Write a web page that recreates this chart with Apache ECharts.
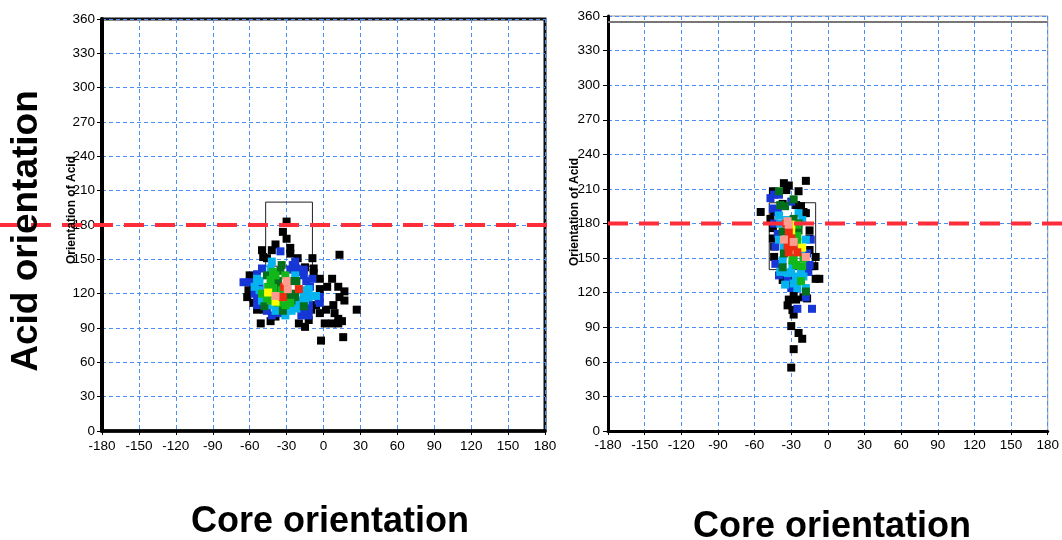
<!DOCTYPE html>
<html><head><meta charset="utf-8">
<script src="https://cdn.jsdelivr.net/npm/echarts@6/dist/echarts.min.js"></script>
<style>html,body{margin:0;padding:0;background:#fff}#c{width:1062px;height:540px}</style>
</head><body><div id="c"></div>
<script>
// ---- axis ticks ----
const xMin = -180, xMax = 180, xStep = 30;
const yMin = 0, yMax = 360, yStep = 30;
const refY = 180;

// ---- LEFT panel data [core, acid] ----
const leftBox = [[-47,144],[-47,200],[-9,200],[-9,144],[-47,144]];
const leftBlack = [[-30,183],[-33,174],[-30,168],[-39,163],[-27,160],[-50,158],[-42,158],[-27,155],[-21,151],[-9,151],[13,154],[-49,152],[-46,151],[-8,142],[-8,138],[-15,143],[-60,136],[-3,133],[7,133],[-3,124],[3,126],[12,126],[-62,117],[-61,123],[17,122],[17,114],[13,117],[-57,112],[-54,106],[-48,106],[-6,110],[-3,103],[2,106],[8,110],[9,103],[12,98],[15,96],[27,106],[-51,94],[-43,96],[-20,94],[-15,91],[1,94],[7,94],[12,94],[-12,97],[-2,79],[16,82],[-39,100],[-10,106],[-57,126]];
const leftBlue = [[-65,130],[-60,130],[-35,157],[-50,142],[-25,145],[-16,141],[-9,133],[-54,117],[-42,101],[-37,103],[-18,101],[-12,101],[-12,107],[-3,112],[-3,117],[-11,126],[-19,139],[-23,148],[-27,141],[-22,142],[-54,137],[-16,136],[-14,131],[-52,125],[-56,120],[-4,114],[-54,110],[-12,110],[-46,105],[-16,104]];
const leftCyan = [[-54,133],[-56,126],[-52,123],[-49,114],[-42,148],[-23,136],[-14,123],[-12,117],[-19,114],[-26,110],[-31,101],[-29,106],[-6,118],[-41,110],[-52,131],[-22,107],[-43,142],[-12,124],[-16,120],[-50,114],[-15,114],[-43,110],[-22,110],[-39,105],[-26,105]];
const leftGreen = [[-41,139],[-43,132],[-45,126],[-31,136],[-34,123],[-27,112],[-37,112],[-46,116],[-39,136],[-41,125],[-50,120],[-41,120],[-43,114],[-31,110]];
const leftDkGreen = [[-34,145],[-39,129],[-37,123],[-25,131],[-23,117],[-29,117],[-16,109],[-48,109],[-33,109],[-35,140],[-46,136],[-37,131],[-22,131],[-38,124],[-36,120],[-24,120],[-26,114],[-33,105]];
const leftYellow = [[-45,121],[-39,113]];
const leftRed = [[-32,126],[-20,124],[-33,117]];
const leftPink = [[-30,131],[-29,124],[-39,118]];

// ---- RIGHT panel data [core, acid] ----
const rightBox = [[-48,140],[-48,198],[-10,198],[-10,140],[-48,140]];
const rightBlack = [[-18,217],[-36,215],[-32,213],[-34,209],[-24,208],[-45,208],[-37,197],[-26,196],[-22,195],[-20,190],[-18,189],[-55,190],[-44,190],[-47,184],[-45,176],[-45,167],[-15,174],[-15,167],[-44,160],[-15,157],[-10,151],[-44,151],[-11,143],[-10,132],[-7,132],[-37,131],[-32,130],[-28,118],[-26,114],[-33,109],[-29,105],[-28,101],[-20,116],[-17,115],[-30,91],[-24,85],[-21,80],[-28,71],[-30,55],[-32,114]];
const rightBlue = [[-44,205],[-40,205],[-47,202],[-30,199],[-45,193],[-41,190],[-41,171],[-14,166],[-40,135],[-33,132],[-30,124],[-25,106],[-13,106],[-18,116],[-15,144],[-17,154],[-44,180],[-43,160],[-43,145],[-16,138]];
const rightDkGreen = [[-40,208],[-39,196],[-28,184],[-37,173],[-24,174],[-36,154],[-18,121],[-37,142],[-24,180],[-35,195],[-28,201]];
const rightCyan = [[-40,187],[-39,180],[-24,189],[-40,166],[-22,156],[-18,166],[-29,144],[-39,138],[-33,137],[-26,134],[-20,134],[-25,124],[-18,124],[-37,148],[-34,183],[-21,183],[-36,160],[-22,138],[-30,138],[-35,127],[-28,128]];
const rightGreen = [[-25,179],[-25,164],[-29,148],[-26,144],[-22,130],[-21,143],[-25,169],[-28,150],[-20,150]];
const rightYellow = [[-30,179],[-30,174],[-21,159]];
const rightRed = [[-32,173],[-30,167],[-33,161],[-28,160],[-32,155],[-25,155],[-34,180]];
const rightPink = [[-36,166],[-33,182],[-28,164],[-18,151],[-32,179]];

const COL = {black:'#000000', blue:'#1736d6', cyan:'#05b4ee', green:'#12b81a', dkgreen:'#04701e', yellow:'#ffff00', red:'#ee2a10', pink:'#ff9c90'};
const FONT = '"Liberation Sans", Arial, sans-serif';

function sq(data, color, g, z) {
  return {type:'scatter', xAxisIndex:g, yAxisIndex:g, data:data, symbol:'rect', symbolSize:8,
    itemStyle:{color:color, opacity:1}, z:z, silent:true, animation:false};
}
function box(data, g) {
  return {type:'line', xAxisIndex:g, yAxisIndex:g, data:data, symbol:'none',
    lineStyle:{color:'#222', width:1}, z:1, silent:true, animation:false};
}
const gridLine = {show:true, lineStyle:{color:'#4b8ef5', width:1, type:[4,3]}};
function xAx(g, margin, lineW) {
  return {type:'value', gridIndex:g, min:xMin, max:xMax, interval:xStep,
    axisLine:{show:true, onZero:false, lineStyle:{color:'#000', width:lineW}},
    axisTick:{show:true, length:4, lineStyle:{color:'#000'}},
    axisLabel:{color:'#000', fontSize:13.5, fontFamily:FONT, margin:margin},
    splitLine:gridLine};
}
function yAx(g, margin, lineW) {
  return {type:'value', gridIndex:g, min:yMin, max:yMax, interval:yStep,
    axisLine:{show:true, onZero:false, lineStyle:{color:'#000', width:lineW}},
    axisTick:{show:true, length:5, lineStyle:{color:'#000'}},
    axisLabel:{color:'#000', fontSize:13.5, fontFamily:FONT, margin:margin},
    splitLine:gridLine};
}

const chart = echarts.init(document.getElementById('c'), null, {renderer:'canvas'});
const rightSeries = [box(rightBox,1), sq(rightBlack,COL.black,1,3), sq(rightBlue,COL.blue,1,4), sq(rightCyan,COL.cyan,1,5),
  sq(rightDkGreen,COL.dkgreen,1,6), sq(rightGreen,COL.green,1,6), sq(rightYellow,COL.yellow,1,7), sq(rightRed,COL.red,1,7), sq(rightPink,COL.pink,1,7)];
rightSeries[0].markLine = {silent:true, symbol:'none', label:{show:false}, animation:false,
  lineStyle:{color:'#777', width:2, type:'solid'}, data:[{yAxis:355}]};

chart.setOption({
  animation:false,
  backgroundColor:'#fff',
  grid:[
    {left:102, top:19, width:443, height:412, show:true, borderColor:'#111', borderWidth:3},
    {left:608, top:16, width:442, height:415, show:true, borderColor:'#999', borderWidth:1}
  ],
  xAxis:[xAx(0,8,3.5), xAx(1,7,3)],
  yAxis:[yAx(0,7,4), yAx(1,8,3)],
  series:[
    box(leftBox,0), sq(leftBlack,COL.black,0,3), sq(leftBlue,COL.blue,0,4), sq(leftCyan,COL.cyan,0,5),
    sq(leftDkGreen,COL.dkgreen,0,6), sq(leftGreen,COL.green,0,6), sq(leftYellow,COL.yellow,0,7), sq(leftRed,COL.red,0,7), sq(leftPink,COL.pink,0,7)
  ].concat(rightSeries)
});

const pL = chart.convertToPixel({gridIndex:0}, [0, refY]);
const pR = chart.convertToPixel({gridIndex:1}, [xMin, refY]);
const redStyle = {stroke:'#ff2d3a', lineWidth:4, lineDash:[20,11]};
chart.setOption({
  graphic:[
    {type:'line', shape:{x1:0, y1:pL[1], x2:551, y2:pL[1]}, style:redStyle, z:50, silent:true},
    {type:'line', shape:{x1:pR[0], y1:pR[1], x2:1062, y2:pR[1]}, style:redStyle, z:50, silent:true},
    {type:'text', x:27, y:231, rotation:Math.PI/2, z:60,
      style:{text:'Acid orientation', font:'bold 37px '+FONT, fill:'#000', align:'center', verticalAlign:'middle'}},
    {type:'text', x:72, y:210, rotation:Math.PI/2, z:60,
      style:{text:'Orientation of Acid', font:'bold 12px '+FONT, fill:'#000', align:'center', verticalAlign:'middle'}},
    {type:'text', x:575, y:212, rotation:Math.PI/2, z:60,
      style:{text:'Orientation of Acid', font:'bold 12px '+FONT, fill:'#000', align:'center', verticalAlign:'middle'}},
    {type:'text', x:330, y:522, z:60,
      style:{text:'Core orientation', font:'bold 36px '+FONT, fill:'#000', align:'center', verticalAlign:'middle'}},
    {type:'text', x:832, y:527, z:60,
      style:{text:'Core orientation', font:'bold 36px '+FONT, fill:'#000', align:'center', verticalAlign:'middle'}}
  ]
});
</script>
</body></html>
